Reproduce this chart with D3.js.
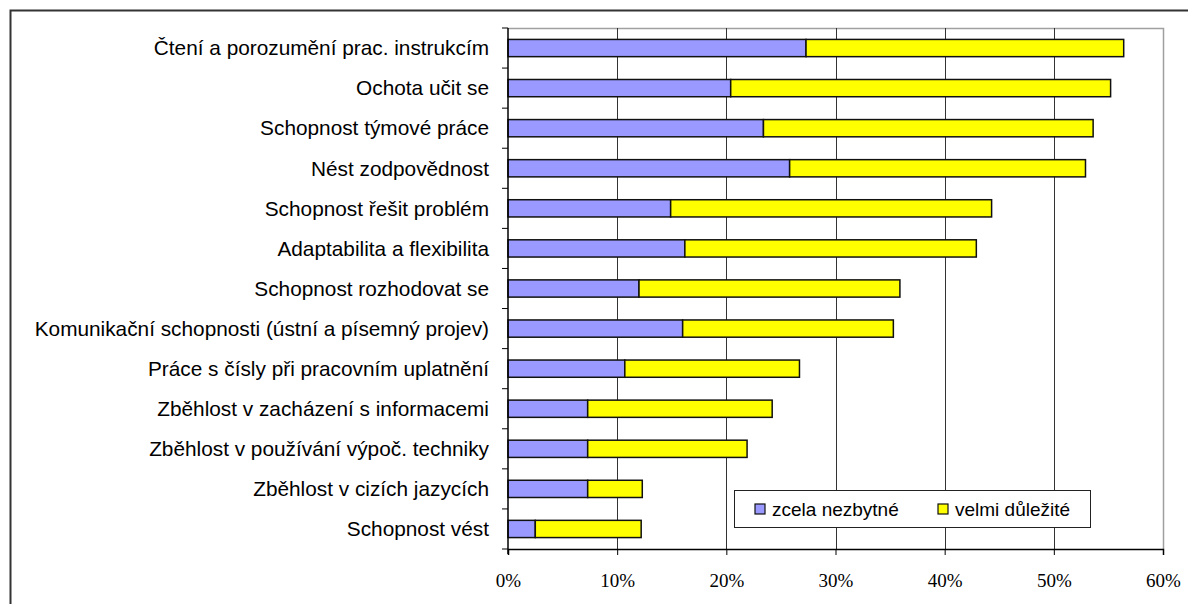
<!DOCTYPE html>
<html>
<head>
<meta charset="utf-8">
<script src="https://cdn.jsdelivr.net/npm/d3@7"></script>
<style>
  html, body { margin: 0; padding: 0; background: #fff; }
  svg { display: block; }
</style>
</head>
<body>
<svg id="chart" width="1188" height="604"></svg>
<script>
// Skills ranked by share of respondents (in %)
const categories = [
  "Čtení a porozumění prac. instrukcím",
  "Ochota učit se",
  "Schopnost týmové práce",
  "Nést zodpovědnost",
  "Schopnost řešit problém",
  "Adaptabilita a flexibilita",
  "Schopnost rozhodovat se",
  "Komunikační schopnosti (ústní a písemný projev)",
  "Práce s čísly při pracovním uplatnění",
  "Zběhlost v zacházení s informacemi",
  "Zběhlost v používání výpoč. techniky",
  "Zběhlost v cizích jazycích",
  "Schopnost vést"
];
const zcelaNezbytne = [27.3, 20.4, 23.4, 25.8, 14.9, 16.2, 12.0, 16.0, 10.7, 7.3, 7.3, 7.3, 2.5];
const velmiDulezite = [29.1, 34.8, 30.2, 27.1, 29.4, 26.7, 23.9, 19.3, 16.0, 16.9, 14.6, 5.0, 9.7];
const seriesNames = ["zcela nezbytné", "velmi důležité"];
const seriesColors = ["#9999FF", "#FFFF00"];
const xTicks = [0, 10, 20, 30, 40, 50, 60];

const svg = d3.select("#chart");
const plot = { left: 508, right: 1163, top: 28, bottom: 549 };

// Outer frame
svg.append("rect")
  .attr("x", 10.5).attr("y", 10.5)
  .attr("width", 1200).attr("height", 640)
  .attr("fill", "#fff").attr("stroke", "#333").attr("stroke-width", 2);

const x = d3.scaleLinear().domain([0, 60]).range([plot.left, plot.right]);
const y = d3.scaleBand().domain(categories).range([plot.top, plot.bottom]).paddingInner(0.57).paddingOuter(0.285);
const yBounds = d3.scaleBand().domain(categories).range([plot.top, plot.bottom]);

// Plot area border (top / right)
svg.append("path")
  .attr("d", `M${plot.left},${plot.top + 0.5}H${plot.right + 0.5}V${plot.bottom}`)
  .attr("fill", "none").attr("stroke", "#a0a0a0").attr("stroke-width", 1.5);

// Vertical gridlines
svg.append("g").selectAll("line")
  .data(xTicks.slice(1, -1))
  .join("line")
  .attr("x1", d => Math.round(x(d)) + 0.5).attr("x2", d => Math.round(x(d)) + 0.5)
  .attr("y1", plot.top).attr("y2", plot.bottom)
  .attr("stroke", "#333").attr("stroke-width", 1);

// Stacked bars
const rows = categories.map((c, i) => ({ c, vals: [zcelaNezbytne[i], velmiDulezite[i]] }));
const segs = [];
rows.forEach(r => {
  let acc = 0;
  r.vals.forEach((v, k) => { segs.push({ c: r.c, x0: acc, x1: acc + v, k }); acc += v; });
});
svg.append("g").selectAll("rect")
  .data(segs)
  .join("rect")
  .attr("x", d => x(d.x0))
  .attr("y", d => y(d.c))
  .attr("width", d => x(d.x1) - x(d.x0))
  .attr("height", y.bandwidth())
  .attr("fill", d => seriesColors[d.k])
  .attr("stroke", "#111").attr("stroke-width", 1.5);

// Category axis (left)
const yAxisG = svg.append("g").attr("transform", `translate(${plot.left},0)`);
yAxisG.append("line")
  .attr("x1", 0).attr("x2", 0).attr("y1", plot.top).attr("y2", plot.bottom + 5)
  .attr("stroke", "#000").attr("stroke-width", 1.5);
yAxisG.selectAll("line.tick")
  .data(categories.map(c => yBounds(c)).concat([plot.bottom]))
  .join("line").attr("class", "tick")
  .attr("x1", -6).attr("x2", 0)
  .attr("y1", d => d).attr("y2", d => d)
  .attr("stroke", "#000").attr("stroke-width", 1);
yAxisG.selectAll("text")
  .data(categories)
  .join("text")
  .attr("x", -19)
  .attr("y", d => yBounds(d) + yBounds.bandwidth() / 2)
  .attr("dy", "0.35em")
  .attr("text-anchor", "end")
  .attr("font-family", "Liberation Sans, Arial, sans-serif")
  .attr("font-size", 20.8)
  .attr("fill", "#000")
  .text(d => d);

// Value axis (bottom)
const xAxis = d3.axisBottom(x).tickValues(xTicks).tickFormat(d => d + "%").tickSize(6).tickPadding(19);
const xAxisG = svg.append("g").attr("transform", `translate(0,${plot.bottom})`).call(xAxis);
xAxisG.select(".domain").attr("stroke", "#000").attr("stroke-width", 1.5);
xAxisG.selectAll(".tick line").attr("stroke", "#000");
xAxisG.selectAll(".tick text")
  .attr("font-family", "Liberation Serif, Times New Roman, serif")
  .attr("font-size", 19)
  .attr("fill", "#000");

// Legend
const legend = svg.append("g").attr("transform", "translate(734,490)");
legend.append("rect")
  .attr("x", 0.5).attr("y", 0.5).attr("width", 356).attr("height", 37)
  .attr("fill", "#fff").attr("stroke", "#222").attr("stroke-width", 1);
const legendX = [21, 204];
seriesNames.forEach((name, k) => {
  legend.append("rect")
    .attr("x", legendX[k]).attr("y", 14)
    .attr("width", 10).attr("height", 10)
    .attr("fill", seriesColors[k]).attr("stroke", "#111").attr("stroke-width", 1.2);
  legend.append("text")
    .attr("x", legendX[k] + 17).attr("y", 19).attr("dy", "0.35em")
    .attr("font-family", "Liberation Sans, Arial, sans-serif")
    .attr("font-size", 19)
    .attr("fill", "#000")
    .text(name);
});
</script>
</body>
</html>
